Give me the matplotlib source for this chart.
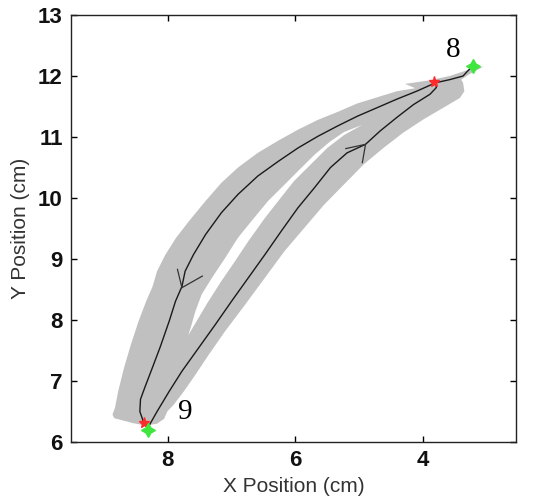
import matplotlib
matplotlib.use("Agg")
import matplotlib.pyplot as plt

# ---- data (cm) ----
# upper/left path, from the top junction down to the bottom
path_a_x = [3.80, 4.10, 4.41, 4.72, 5.03, 5.34, 5.65, 5.96, 6.27, 6.59, 6.90, 7.16, 7.41,
            7.60, 7.73, 7.78, 7.88, 7.98, 8.12, 8.25, 8.36, 8.43, 8.44, 8.38]
path_a_y = [11.89, 11.75, 11.62, 11.48, 11.34, 11.18, 11.01, 10.82, 10.60, 10.36, 10.06, 9.76, 9.40,
            9.07, 8.80, 8.55, 8.31, 7.98, 7.56, 7.20, 6.90, 6.70, 6.50, 6.32]
# lower/right path, from the bottom up to the top junction
path_b_x = [8.30, 8.17, 7.98, 7.78, 7.52, 7.26, 7.00, 6.74, 6.48, 6.22, 5.96, 5.70, 5.45,
            5.19, 4.90, 4.67, 4.41, 4.15, 3.89, 3.79, 3.80]
path_b_y = [6.26, 6.50, 6.83, 7.16, 7.54, 7.92, 8.31, 8.69, 9.07, 9.46, 9.84, 10.17, 10.50,
            10.74, 10.88, 11.10, 11.32, 11.53, 11.70, 11.81, 11.89]
# short link between the top junction and start point 8
link_x = [3.80, 3.58, 3.37, 3.30, 3.22]
link_y = [11.89, 11.94, 12.00, 12.08, 12.16]

# gray envelope (outer outline)
env_x = [8.87, 8.83, 8.78, 8.69, 8.58, 8.46, 8.34, 8.24, 8.17, 8.04, 7.87, 7.67, 7.41, 7.16,
         6.90, 6.59, 6.27, 5.96, 5.65, 5.34, 5.03, 4.72, 4.41, 4.12, 4.28, 3.89, 3.58, 3.32,
         3.04, 3.27, 3.40, 3.37, 3.35, 3.42, 3.68, 3.99, 4.31, 4.62, 4.93, 5.24, 5.55, 5.86,
         6.17, 6.48, 6.79, 7.10, 7.36, 7.57, 7.75, 7.91, 8.01, 8.06, 8.17, 8.35, 8.55, 8.84]
env_y = [6.45, 6.56, 6.83, 7.21, 7.60, 7.98, 8.31, 8.55, 8.80, 9.07, 9.35, 9.62, 9.95, 10.25,
         10.50, 10.74, 10.94, 11.12, 11.28, 11.41, 11.55, 11.65, 11.75, 11.80, 11.87, 11.93, 12.00, 12.09,
         12.16, 12.03, 11.94, 11.89, 11.75, 11.64, 11.48, 11.29, 11.07, 10.82, 10.55, 10.22, 9.89, 9.51,
         9.13, 8.69, 8.25, 7.82, 7.43, 7.10, 6.83, 6.61, 6.50, 6.38, 6.30, 6.27, 6.31, 6.39]
# white gap between the two bands
gap_x = [4.95, 5.24, 5.45, 5.70, 5.96, 6.17, 6.43, 6.69, 6.90, 7.10, 7.31, 7.47, 7.57, 7.63, 7.68,
         7.55, 7.38, 7.16, 6.95, 6.74, 6.48, 6.27, 6.02, 5.76, 5.50, 5.24]
gap_y = [11.20, 11.08, 10.93, 10.71, 10.44, 10.22, 9.95, 9.62, 9.35, 9.02, 8.69, 8.42, 8.14, 7.92, 7.75,
         7.98, 8.28, 8.64, 8.96, 9.29, 9.67, 9.95, 10.28, 10.55, 10.82, 11.03]

# direction arrows: tip and two wing ends
arrow_tip_x = [7.78, 4.90]
arrow_tip_y = [8.53, 10.88]
arrow_w1_x = [7.85, 5.21]
arrow_w1_y = [8.83, 10.81]
arrow_w2_x = [7.46, 4.95]
arrow_w2_y = [8.72, 10.58]

# start (green) and end (red) points
start_x = [3.22, 8.31]
start_y = [12.16, 6.19]
end_x = [3.82, 8.37]
end_y = [11.90, 6.31]

seg_labels = ["8", "9"]
seg_label_x = [3.52, 7.73]
seg_label_y = [12.43, 6.49]

xticks = [8, 6, 4]
yticks = [6, 7, 8, 9, 10, 11, 12, 13]

# ---- figure ----
fig = plt.figure(figsize=(5.33, 5.04), dpi=100)
ax = fig.add_axes([71 / 533, 1 - 442 / 504, (516 - 71) / 533, (442 - 15) / 504])

ax.fill(env_x, env_y, color="#c0c0c0", lw=0, zorder=1)
ax.fill(gap_x, gap_y, color="white", lw=0, zorder=2)

lc = "#1a1a1a"
ax.plot(path_a_x, path_a_y, color=lc, lw=1.0, zorder=3)
ax.plot(path_b_x, path_b_y, color=lc, lw=1.0, zorder=3)
ax.plot(link_x, link_y, color=lc, lw=1.0, zorder=3)
for i in range(len(arrow_tip_x)):
    ax.plot([arrow_w1_x[i], arrow_tip_x[i], arrow_w2_x[i]],
            [arrow_w1_y[i], arrow_tip_y[i], arrow_w2_y[i]], color="#333333", lw=0.9, zorder=3)

ax.plot(end_x, end_y, ls="none", marker="*", ms=8, color="#ff2a2a", mec="#ff2a2a", zorder=4)
ax.plot(start_x, start_y, ls="none", marker=(4, 1, 0), ms=10, color="#3ee63e", mec="#3ee63e", zorder=4)

for t, x, y in zip(seg_labels, seg_label_x, seg_label_y):
    ax.text(x, y, t, family="Liberation Serif", fontsize=21, ha="center", va="center", zorder=5)

ax.set_xlim(9.52, 2.54)
ax.set_ylim(6, 13)
ax.set_xticks(xticks)
ax.set_yticks(yticks)
ax.tick_params(direction="in", length=4, width=1, top=True, right=True, pad=6,
               labelsize=16)
for lab in ax.get_xticklabels() + ax.get_yticklabels():
    lab.set_family("Liberation Sans")
    lab.set_fontweight("bold")
    lab.set_color("#111111")
for s in ax.spines.values():
    s.set_linewidth(1.0)
    s.set_color("#222222")

ax.set_xlabel("X Position (cm)", family="Liberation Sans", fontsize=15, color="#333333", labelpad=4)
ax.set_ylabel("Y Position (cm)", family="Liberation Sans", fontsize=15, color="#333333", labelpad=6)

fig.savefig("out.png", dpi=100)
